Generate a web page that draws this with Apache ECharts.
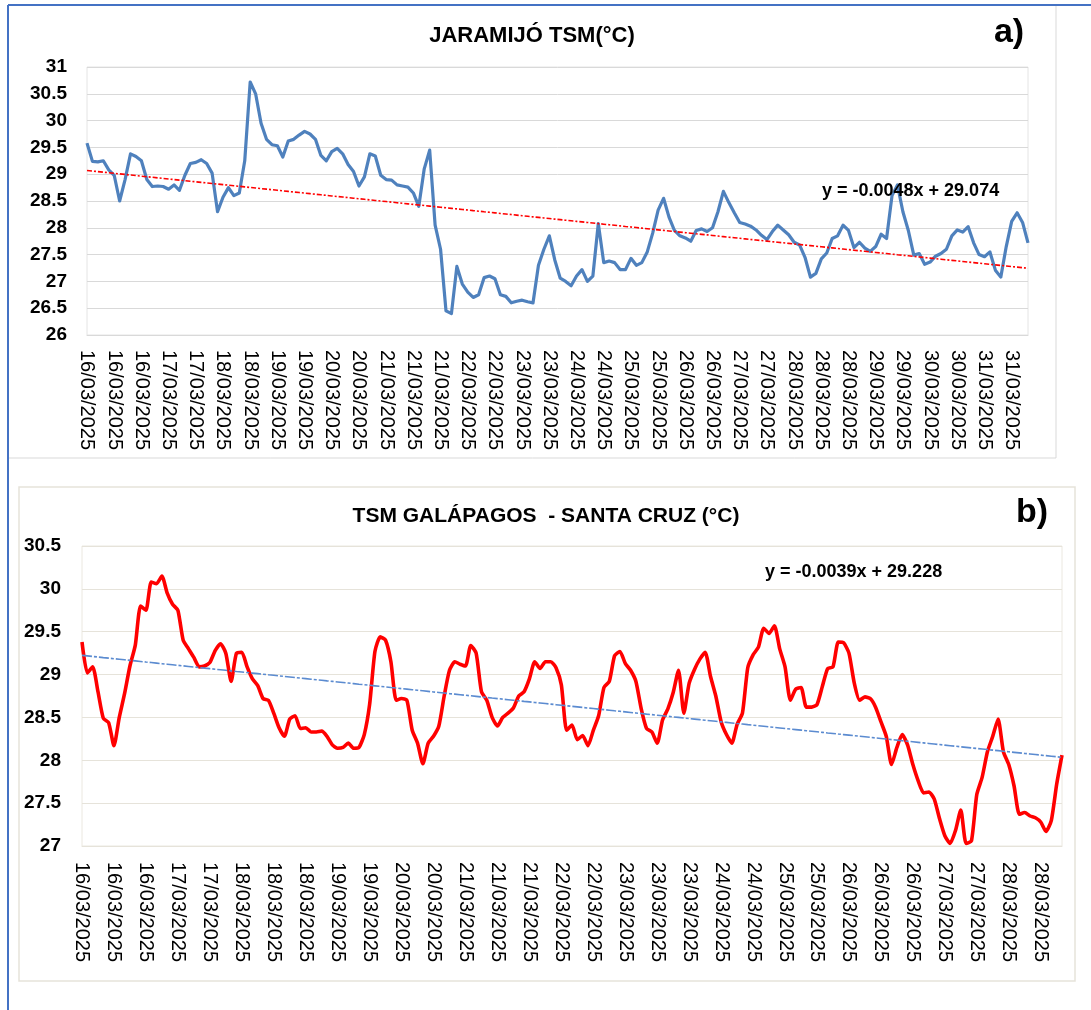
<!DOCTYPE html>
<html>
<head>
<meta charset="utf-8">
<title>TSM Jaramijó y Galápagos - Santa Cruz</title>
<script src="https://cdn.jsdelivr.net/npm/echarts@6/dist/echarts.min.js"></script>
<style>
  html, body { margin: 0; padding: 0; background: #ffffff; }
  #chart { width: 1091px; height: 1010px; }
</style>
</head>
<body>
<div id="chart"></div>
<script>
// ---- Panel a) Jaramijó sea-surface temperature (°C) ----
const jaramijoTicks = [
  "16/03/2025", "16/03/2025", "16/03/2025", "17/03/2025", "17/03/2025",
  "18/03/2025", "18/03/2025", "19/03/2025", "19/03/2025", "20/03/2025",
  "20/03/2025", "21/03/2025", "21/03/2025", "21/03/2025", "22/03/2025",
  "22/03/2025", "23/03/2025", "23/03/2025", "24/03/2025", "24/03/2025",
  "25/03/2025", "25/03/2025", "26/03/2025", "26/03/2025", "27/03/2025",
  "27/03/2025", "28/03/2025", "28/03/2025", "28/03/2025", "29/03/2025",
  "29/03/2025", "30/03/2025", "30/03/2025", "31/03/2025", "31/03/2025"
];
const jaramijoValues = [
  29.58, 29.24, 29.23, 29.25, 29.08, 28.98, 28.50, 28.90, 29.38, 29.33,
  29.25, 28.90, 28.77, 28.78, 28.77, 28.72, 28.80, 28.70, 28.98, 29.20,
  29.22, 29.27, 29.20, 29.02, 28.30, 28.57, 28.75, 28.60, 28.65, 29.25,
  30.72, 30.50, 29.95, 29.65, 29.55, 29.53, 29.32, 29.62, 29.65, 29.73,
  29.80, 29.75, 29.65, 29.35, 29.25, 29.42, 29.48, 29.38, 29.18, 29.05,
  28.78, 28.95, 29.38, 29.34, 28.98, 28.90, 28.89, 28.80, 28.78, 28.76,
  28.65, 28.40, 29.10, 29.45, 28.05, 27.60, 26.45, 26.40, 27.28, 26.95,
  26.80, 26.70, 26.75, 27.07, 27.10, 27.05, 26.75, 26.72, 26.60, 26.63,
  26.65, 26.62, 26.60, 27.30, 27.60, 27.85, 27.40, 27.06, 27.00, 26.92,
  27.10, 27.22, 27.00, 27.10, 28.08, 27.35, 27.38, 27.35, 27.22, 27.22,
  27.43, 27.30, 27.35, 27.55, 27.90, 28.33, 28.55, 28.20, 27.95, 27.85,
  27.81, 27.75, 27.95, 27.98, 27.93, 28.00, 28.30, 28.68, 28.47, 28.28,
  28.10, 28.07, 28.03, 27.96, 27.86, 27.78, 27.93, 28.05, 27.96, 27.87,
  27.73, 27.68, 27.45, 27.08, 27.15, 27.42, 27.53, 27.80, 27.85, 28.05,
  27.95, 27.63, 27.73, 27.62, 27.56, 27.65, 27.88, 27.80, 28.60, 28.80,
  28.30, 27.95, 27.49, 27.52, 27.32, 27.36, 27.47, 27.52, 27.60, 27.85,
  27.96, 27.92, 28.02, 27.72, 27.50, 27.46, 27.55, 27.21, 27.08, 27.65,
  28.12, 28.28, 28.10, 27.72
];
const jaramijoLabelStep = 5;
// linear fit over the hourly record (x = hour number, starting at 1)
const jaramijoFit = { slope: -0.0048, intercept: 29.074, hours: 381 };

// ---- Panel b) Galápagos - Santa Cruz sea-surface temperature (°C) ----
const galapagosTicks = [
  "16/03/2025", "16/03/2025", "16/03/2025", "17/03/2025", "17/03/2025",
  "18/03/2025", "18/03/2025", "18/03/2025", "19/03/2025", "19/03/2025",
  "20/03/2025", "20/03/2025", "21/03/2025", "21/03/2025", "21/03/2025",
  "22/03/2025", "22/03/2025", "23/03/2025", "23/03/2025", "23/03/2025",
  "24/03/2025", "24/03/2025", "25/03/2025", "25/03/2025", "26/03/2025",
  "26/03/2025", "26/03/2025", "27/03/2025", "27/03/2025", "28/03/2025",
  "28/03/2025"
];
const galapagosValues = [
  29.38, 29.02, 29.09, 28.80, 28.49, 28.44, 28.17, 28.50, 28.78, 29.10,
  29.34, 29.80, 29.75, 30.08, 30.06, 30.15, 29.95, 29.82, 29.75, 29.40,
  29.30, 29.20, 29.09, 29.10, 29.14, 29.28, 29.36, 29.25, 28.92, 29.25,
  29.26, 29.09, 28.95, 28.87, 28.72, 28.70, 28.55, 28.38, 28.28, 28.48,
  28.52, 28.37, 28.38, 28.33, 28.33, 28.34, 28.28, 28.18, 28.14, 28.15,
  28.20, 28.14, 28.15, 28.30, 28.65, 29.27, 29.44, 29.40, 29.15, 28.70,
  28.72, 28.70, 28.35, 28.20, 27.96, 28.20, 28.28, 28.40, 28.75, 29.05,
  29.15, 29.12, 29.10, 29.34, 29.25, 28.80, 28.70, 28.50, 28.40, 28.50,
  28.55, 28.61, 28.75, 28.80, 28.95, 29.15, 29.07, 29.15, 29.15, 29.08,
  28.88, 28.35, 28.41, 28.24, 28.29, 28.17, 28.35, 28.52, 28.85, 28.92,
  29.22, 29.27, 29.13, 29.05, 28.92, 28.60, 28.37, 28.33, 28.20, 28.47,
  28.60, 28.79, 29.05, 28.55, 28.90, 29.06, 29.18, 29.26, 28.98, 28.75,
  28.45, 28.30, 28.20, 28.42, 28.55, 29.08, 29.23, 29.32, 29.54, 29.48,
  29.57, 29.30, 29.09, 28.70, 28.83, 28.85, 28.62, 28.62, 28.65, 28.86,
  29.07, 29.09, 29.38, 29.37, 29.25, 28.90, 28.70, 28.74, 28.72, 28.62,
  28.45, 28.28, 27.95, 28.15, 28.30, 28.18, 27.95, 27.76, 27.62, 27.63,
  27.55, 27.32, 27.12, 27.03, 27.18, 27.42, 27.03, 27.06, 27.60, 27.80,
  28.10, 28.28, 28.48, 28.10, 27.95, 27.70, 27.37, 27.39, 27.35, 27.33,
  27.28, 27.17, 27.30, 27.72, 28.06
];
const galapagosLabelStep = 6;
const galapagosFit = { slope: -0.0039, intercept: 29.228, hours: 306 };

// ---- helpers ----
function categoriesFor(values, ticks, step) {
  return values.map((_, i) => ticks[Math.min(Math.floor(i / step), ticks.length - 1)]);
}
function fitLine(values, fit) {
  const n = values.length;
  return values.map((_, i) => {
    const hour = 1 + i * (fit.hours - 1) / (n - 1);
    return +(fit.intercept + fit.slope * hour).toFixed(4);
  });
}
function fitText(fit) {
  return 'y = ' + fit.slope + 'x + ' + fit.intercept;
}

const FONT = '"Liberation Sans", Arial, sans-serif';

const chart = echarts.init(document.getElementById('chart'), null, { renderer: 'canvas' });

function yAxisFor(gridIndex, min, max, labelMargin, gridColor) {
  return {
    type: 'value', gridIndex, min, max, interval: 0.5,
    axisLine: { show: false }, axisTick: { show: false },
    axisLabel: { color: '#000', fontSize: 19, fontWeight: 'bold', fontFamily: FONT, margin: labelMargin },
    splitLine: { show: true, lineStyle: { color: gridColor, width: 1 } }
  };
}
function xAxisFor(gridIndex, cats, step, lineColor, labelMargin) {
  return {
    type: 'category', gridIndex, data: cats, boundaryGap: false,
    axisLine: { show: true, lineStyle: { color: lineColor, width: 1 } },
    axisTick: { show: false },
    splitLine: { show: false },
    axisLabel: {
      interval: step - 1, rotate: -90, color: '#000', fontSize: 20,
      fontFamily: FONT, margin: labelMargin
    }
  };
}

const option = {
  backgroundColor: '#ffffff',
  animation: false,
  grid: [
    { left: 87, top: 67, width: 941, height: 268, show: true, borderColor: '#e4e4e4', borderWidth: 1, backgroundColor: 'transparent' },
    { left: 82, top: 546, width: 980, height: 300, show: true, borderColor: '#ebe8e0', borderWidth: 1, backgroundColor: 'transparent' }
  ],
  xAxis: [
    xAxisFor(0, categoriesFor(jaramijoValues, jaramijoTicks, jaramijoLabelStep), jaramijoLabelStep, '#d9d9d9', 15),
    xAxisFor(1, categoriesFor(galapagosValues, galapagosTicks, galapagosLabelStep), galapagosLabelStep, '#e6e3da', 16)
  ],
  yAxis: [
    yAxisFor(0, 26, 31, 20, '#d9d9d9'),
    yAxisFor(1, 27, 30.5, 21, '#e6e3da')
  ],
  series: [
    {
      name: 'Jaramijó TSM', type: 'line', xAxisIndex: 0, yAxisIndex: 0,
      data: jaramijoValues, showSymbol: false, z: 3,
      lineStyle: { color: '#4f81bd', width: 3.2, join: 'round' }
    },
    {
      name: 'Tendencia Jaramijó', type: 'line', xAxisIndex: 0, yAxisIndex: 0,
      data: fitLine(jaramijoValues, jaramijoFit), showSymbol: false, z: 4,
      lineStyle: { color: '#ff0000', width: 1.6, type: [5, 2, 2, 2] }
    },
    {
      name: 'TSM Galápagos - Santa Cruz', type: 'line', xAxisIndex: 1, yAxisIndex: 1,
      data: galapagosValues, showSymbol: false, z: 3, smooth: 0.2,
      lineStyle: { color: '#ff0000', width: 3.6, join: 'round' }
    },
    {
      name: 'Tendencia Galápagos', type: 'line', xAxisIndex: 1, yAxisIndex: 1,
      data: fitLine(galapagosValues, galapagosFit), showSymbol: false, z: 4,
      lineStyle: { color: '#5b8bd0', width: 1.6, type: [10, 2, 3, 2] }
    }
  ],
  graphic: [
    // outer frame
    { type: 'line', z: 1, shape: { x1: 8, y1: 5, x2: 1091, y2: 5 }, style: { stroke: '#4472c4', lineWidth: 2 } },
    { type: 'line', z: 1, shape: { x1: 8, y1: 5, x2: 8, y2: 1010 }, style: { stroke: '#4472c4', lineWidth: 2 } },
    // panel a frame
    { type: 'line', z: 1, shape: { x1: 1056, y1: 6, x2: 1056, y2: 458 }, style: { stroke: '#d9d9d9', lineWidth: 1 } },
    { type: 'line', z: 1, shape: { x1: 9, y1: 458, x2: 1056, y2: 458 }, style: { stroke: '#d9d9d9', lineWidth: 1 } },
    // panel b frame
    { type: 'rect', z: 1, shape: { x: 19, y: 487, width: 1056, height: 494 }, style: { fill: 'none', stroke: '#e6e3da', lineWidth: 1.5 } },
    // titles and labels
    { type: 'text', z: 10, x: 532, y: 36, style: { text: 'JARAMIJÓ TSM(°C)', font: 'bold 22px ' + FONT, fill: '#000', align: 'center', verticalAlign: 'middle' } },
    { type: 'text', z: 10, x: 1009, y: 33, style: { text: 'a)', font: 'bold 34px ' + FONT, fill: '#000', align: 'center', verticalAlign: 'middle' } },
    { type: 'text', z: 10, x: 822, y: 191, style: { text: fitText(jaramijoFit), font: 'bold 18px ' + FONT, fill: '#000', align: 'left', verticalAlign: 'middle' } },
    { type: 'text', z: 10, x: 546, y: 516, style: { text: 'TSM GALÁPAGOS  - SANTA CRUZ (°C)', font: 'bold 21px ' + FONT, fill: '#000', align: 'center', verticalAlign: 'middle' } },
    { type: 'text', z: 10, x: 1032, y: 513, style: { text: 'b)', font: 'bold 34px ' + FONT, fill: '#000', align: 'center', verticalAlign: 'middle' } },
    { type: 'text', z: 10, x: 765, y: 572, style: { text: fitText(galapagosFit), font: 'bold 18px ' + FONT, fill: '#000', align: 'left', verticalAlign: 'middle' } }
  ]
};

chart.setOption(option);
</script>
</body>
</html>
